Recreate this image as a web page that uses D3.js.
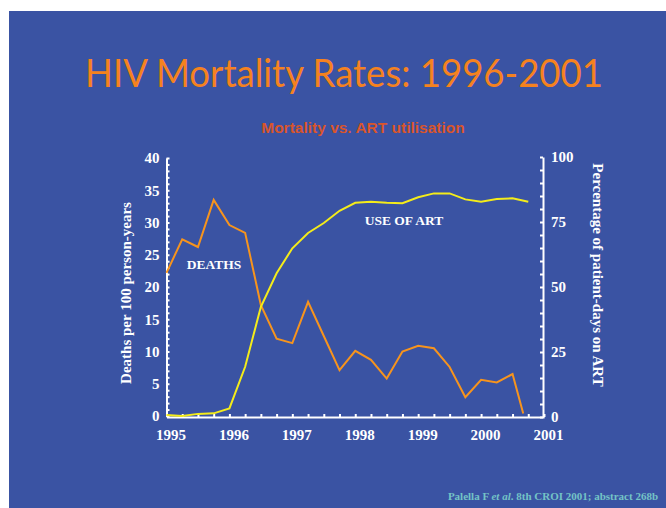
<!DOCTYPE html>
<meta charset="utf-8">
<style>
body { margin: 0; background: #fff; }
.axis text { fill: #fff; font-family: "Liberation Serif", serif; font-weight: bold; font-size: 15px; }
.axis path, .axis line { stroke: #fff; }
</style>
<svg width="666" height="508"></svg>
<script src="https://d3js.org/d3.v7.min.js"></script>
<script>
// data
var yearTicks = [1995, 1996, 1997, 1998, 1999, 2000, 2001];
var deathTicks = [0, 5, 10, 15, 20, 25, 30, 35, 40];
var artTicks = [0, 25, 50, 75, 100];

var deathTime = [1995, 1995.25, 1995.5, 1995.75, 1996, 1996.25, 1996.5, 1996.75,
                 1997, 1997.25, 1997.5, 1997.75, 1998, 1998.25, 1998.5, 1998.75,
                 1999, 1999.25, 1999.5, 1999.75, 2000, 2000.25, 2000.5, 2000.67];
var deaths = [22.2, 27.4, 26.2, 33.5, 29.6, 28.4, 17.2, 12.0,
              11.3, 17.7, 12.4, 7.1, 10.1, 8.7, 5.8, 10.0,
              10.9, 10.5, 7.6, 2.9, 5.6, 5.2, 6.5, 0.4];

var artTime = [1995, 1995.25, 1995.5, 1995.75, 1996, 1996.25, 1996.5, 1996.75,
               1997, 1997.25, 1997.5, 1997.75, 1998, 1998.25, 1998.5, 1998.75,
               1999, 1999.25, 1999.5, 1999.75, 2000, 2000.25, 2000.5, 2000.75];
var artUse = [0.8, 0.4, 1.2, 1.4, 3.3, 19.3, 42.4, 55.3,
              64.9, 70.8, 74.6, 79.3, 82.4, 82.8, 82.4, 82.2,
              84.5, 86.0, 86.0, 83.7, 82.8, 83.8, 84.1, 82.8];

var quarterTicks = [1995, 1995.25, 1995.5, 1995.75, 1996, 1996.25, 1996.5, 1996.75,
                    1997, 1997.25, 1997.5, 1997.75, 1998, 1998.25, 1998.5, 1998.75,
                    1999, 1999.25, 1999.5, 1999.75, 2000, 2000.25, 2000.5, 2000.75, 2001];

var svg = d3.select("svg");

// slide background
svg.append("rect")
    .attr("x", 9).attr("y", 11)
    .attr("width", 657).attr("height", 497)
    .attr("fill", "#3a53a3");

svg.append("text")
    .attr("x", 344).attr("y", 87)
    .attr("text-anchor", "middle")
    .attr("textLength", 518)
    .attr("lengthAdjust", "spacingAndGlyphs")
    .style("font-family", "Lato, sans-serif")
    .style("font-size", "38px")
    .style("fill", "#f5821f")
    .text("HIV Mortality Rates: 1996-2001");

svg.append("text")
    .attr("x", 363).attr("y", 133)
    .attr("text-anchor", "middle")
    .style("font-family", "'Liberation Sans', Arial, sans-serif")
    .style("font-weight", "bold")
    .style("font-size", "15.5px")
    .style("fill", "#d9552b")
    .text("Mortality vs. ART utilisation");

// scales
var x = d3.scaleLinear().domain([1995, 2001]).range([166.5, 544]);
var yL = d3.scaleLinear().domain([0, 40]).range([416, 158]);
var yR = d3.scaleLinear().domain([0, 100]).range([417, 157]);

// bottom axis: quarter ticks pointing up, year labels below
svg.append("g")
    .attr("class", "axis")
    .attr("transform", "translate(0,417)")
    .call(d3.axisBottom(x).tickValues(quarterTicks).tickSize(-3).tickSizeOuter(0).tickFormat(""))
    .selectAll("path, line").attr("stroke-width", 2);

svg.append("g")
    .attr("class", "axis")
    .attr("transform", "translate(4,417)")
    .call(d3.axisBottom(x).tickValues(yearTicks).tickSize(0).tickPadding(12).tickFormat(d3.format("d")))
    .call(function(g) { g.select(".domain").remove(); });

// left axis
svg.append("g")
    .attr("class", "axis")
    .attr("transform", "translate(166.5,0)")
    .call(d3.axisLeft(yL).tickValues(d3.range(0, 41)).tickSize(-3).tickSizeOuter(0).tickFormat(""))
    .selectAll("path, line").attr("stroke-width", 2);

svg.append("g")
    .attr("class", "axis")
    .attr("transform", "translate(166.5,0)")
    .call(d3.axisLeft(yL).tickValues(deathTicks).tickSize(0).tickPadding(7))
    .call(function(g) { g.select(".domain").remove(); });

// right axis
svg.append("g")
    .attr("class", "axis")
    .attr("transform", "translate(543,0)")
    .call(d3.axisRight(yR).tickValues(d3.range(0, 101, 5)).tickSize(-3).tickSizeOuter(0).tickFormat(""))
    .selectAll("path, line").attr("stroke-width", 2);

svg.append("g")
    .attr("class", "axis")
    .attr("transform", "translate(543,0)")
    .call(d3.axisRight(yR).tickValues(artTicks).tickSize(0).tickPadding(8))
    .call(function(g) { g.select(".domain").remove(); });

// axis titles
svg.append("text")
    .attr("transform", "translate(131,293) rotate(-90)")
    .attr("text-anchor", "middle")
    .style("font-family", "'Liberation Serif', serif")
    .style("font-weight", "bold")
    .style("font-size", "15px")
    .style("fill", "#fff")
    .text("Deaths per 100 person-years");

svg.append("text")
    .attr("transform", "translate(593,275) rotate(90)")
    .attr("text-anchor", "middle")
    .style("font-family", "'Liberation Serif', serif")
    .style("font-weight", "bold")
    .style("font-size", "15px")
    .style("fill", "#fff")
    .text("Percentage of patient-days on ART");

// lines
var deathLine = d3.line()
    .x(function(d, i) { return x(deathTime[i]); })
    .y(function(d) { return yL(d); });

var artLine = d3.line()
    .x(function(d, i) { return x(artTime[i]); })
    .y(function(d) { return yR(d); });

svg.append("path")
    .datum(deaths)
    .attr("d", deathLine)
    .attr("fill", "none")
    .attr("stroke", "#f7941d")
    .attr("stroke-width", 2);

svg.append("path")
    .datum(artUse)
    .attr("d", artLine)
    .attr("fill", "none")
    .attr("stroke", "#f4ec1a")
    .attr("stroke-width", 2);

// series labels
svg.append("text")
    .attr("x", 214).attr("y", 269)
    .attr("text-anchor", "middle")
    .style("font-family", "'Liberation Serif', serif")
    .style("font-weight", "bold")
    .style("font-size", "13.5px")
    .style("fill", "#fff")
    .text("DEATHS");

svg.append("text")
    .attr("x", 404).attr("y", 225)
    .attr("text-anchor", "middle")
    .style("font-family", "'Liberation Serif', serif")
    .style("font-weight", "bold")
    .style("font-size", "13.5px")
    .style("fill", "#fff")
    .text("USE OF ART");

// source
var src = svg.append("text")
    .attr("x", 658).attr("y", 500)
    .attr("text-anchor", "end")
    .style("font-family", "'Liberation Serif', serif")
    .style("font-weight", "bold")
    .style("font-size", "11px")
    .style("fill", "#74c3c6");
src.append("tspan").text("Palella F ");
src.append("tspan").style("font-style", "italic").text("et al");
src.append("tspan").text(". 8th CROI 2001; abstract 268b");
</script>
